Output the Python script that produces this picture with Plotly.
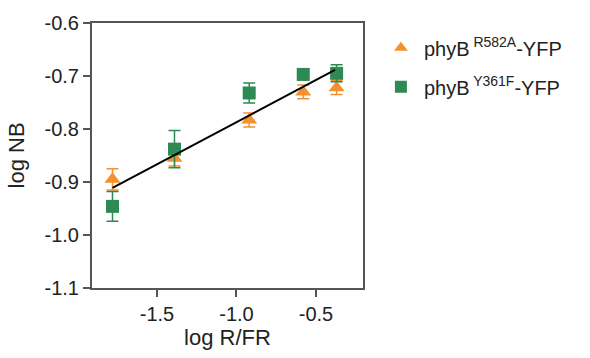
import plotly.graph_objects as go

# log R/FR values for each light condition
log_rfr = [-1.78, -1.39, -0.92, -0.58, -0.37]

# phyB R582A-YFP: mean log NB and SEM
r582a_nb = [-0.895, -0.855, -0.783, -0.730, -0.722]
r582a_err = [0.020, 0.015, 0.013, 0.013, 0.013]

# phyB Y361F-YFP: mean log NB and SEM
y361f_nb = [-0.946, -0.838, -0.732, -0.697, -0.695]
y361f_err = [0.028, 0.035, 0.019, 0.010, 0.016]

# linear fit through the data
fit_slope = 0.159
fit_intercept = -0.628
fit_x = [-1.78, -0.38]

orange = "#F39130"
green = "#2E8A52"

fig = go.Figure()

fig.add_trace(go.Scatter(
    x=log_rfr, y=r582a_nb, mode="markers",
    name="phyB<sup> R582A</sup>-YFP",
    marker=dict(symbol="triangle-up", size=14, color=orange),
    error_y=dict(type="data", array=r582a_err, color=orange, thickness=1.5, width=6),
    legendgroup="a",
))
fig.add_trace(go.Scatter(
    x=log_rfr, y=y361f_nb, mode="markers",
    name="phyB<sup> Y361F</sup>-YFP",
    marker=dict(symbol="square", size=13, color=green),
    error_y=dict(type="data", array=y361f_err, color=green, thickness=1.5, width=6),
    legendgroup="b",
))
fig.add_trace(go.Scatter(
    x=fit_x, y=[fit_slope * v + fit_intercept for v in fit_x],
    mode="lines", line=dict(color="black", width=2), showlegend=False,
))

axis_common = dict(
    showline=True, linecolor="#555555", linewidth=2, mirror=True,
    ticks="outside", tickcolor="#555555", ticklen=7, tickwidth=1.5,
    showgrid=False, zeroline=False,
    tickfont=dict(family="Arial, Liberation Sans", size=20, color="#222222"),
)

fig.update_layout(
    width=590, height=358,
    margin=dict(l=92, r=227, t=15, b=70),
    plot_bgcolor="white", paper_bgcolor="white",
    font=dict(family="Arial, Liberation Sans", color="#222222"),
    xaxis=dict(
        range=[-1.909, -0.204], tickvals=[-1.5, -1.0, -0.5],
        ticktext=["-1.5", "-1.0", "-0.5"],
        title=dict(text="log R/FR", font=dict(size=22), standoff=4),
        **axis_common,
    ),
    yaxis=dict(
        range=[-1.1, -0.6], tickvals=[-1.1, -1.0, -0.9, -0.8, -0.7, -0.6],
        ticktext=["-1.1", "-1.0", "-0.9", "-0.8", "-0.7", "-0.6"],
        **axis_common,
    ),
    legend=dict(
        x=1.055, y=0.98, xanchor="left", yanchor="top",
        font=dict(size=20, color="#222222"),
        tracegroupgap=10, itemsizing="constant", itemwidth=36,
        bgcolor="rgba(0,0,0,0)",
    ),
    annotations=[dict(
        text="log NB", textangle=-90, showarrow=False,
        xref="paper", yref="paper", x=-0.277, y=0.5,
        xanchor="center", yanchor="middle",
        font=dict(size=22, color="#222222"),
    )],
)

fig.write_html("out.html")
